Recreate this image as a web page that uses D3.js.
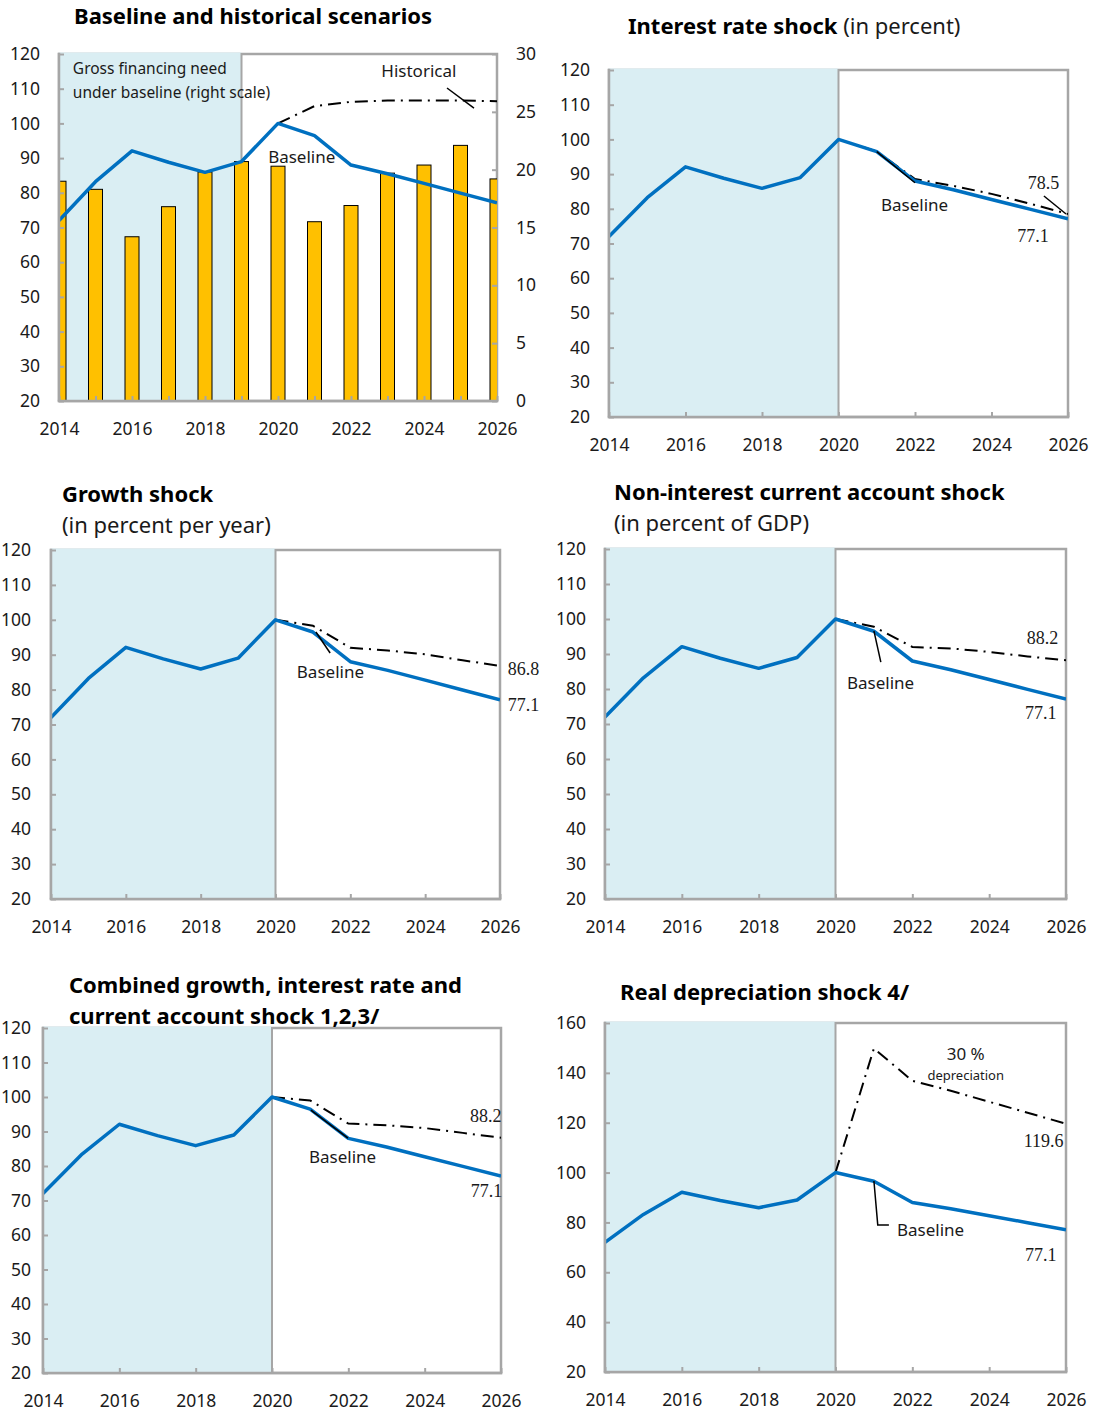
<html>
<head>
<title>Debt sustainability: bound tests</title>
<script src="https://d3js.org/d3.v7.min.js"></script>
<style>
body { margin: 0; background: #ffffff; font-family: 'Noto Sans', 'Open Sans', sans-serif; }
.axis text { font-family: 'Noto Sans', sans-serif; font-size: 17.5px; fill: #1a1a1a; }
.axis line { stroke: #a6a6a6; stroke-width: 2; }
.axis path { display: none; }
.title { font-size: 22px; font-weight: bold; fill: #000; }
.subtitle { font-size: 22px; fill: #1a1a1a; }
.note { font-size: 17px; fill: #1a1a1a; }
.num { font-family: 'Liberation Serif', 'Times New Roman', serif; font-size: 18px; fill: #1a1a1a; }
</style>
</head>
<body>
<svg id="chart" width="1098" height="1414"></svg>
<script>
// data
var years = [2014, 2015, 2016, 2017, 2018, 2019, 2020, 2021, 2022, 2023, 2024, 2025, 2026];
var projYears = [2020, 2021, 2022, 2023, 2024, 2025, 2026];
var labelYears = [2014, 2016, 2018, 2020, 2022, 2024, 2026];
var ticks120 = [20, 30, 40, 50, 60, 70, 80, 90, 100, 110, 120];
var ticks160 = [20, 40, 60, 80, 100, 120, 140, 160];
var ticksRight = [0, 5, 10, 15, 20, 25, 30];

var baseline = [72, 83.2, 92.1, 88.8, 85.9, 89, 100, 96.5, 88, 85.5, 82.7, 79.9, 77.1];
var grossFinancing = [19.0, 18.3, 14.2, 16.8, 19.8, 20.7, 20.3, 15.5, 16.9, 19.7, 20.4, 22.1, 19.2];
var historical = [100, 105, 106.2, 106.6, 106.6, 106.6, 106.4];
var interestShock = [100, 96.5, 88.6, 86.6, 84.3, 81.5, 78.5];
var growthShock = [100, 98.3, 92, 91.2, 90.1, 88.4, 86.8];
var caShock = [100, 97.8, 92, 91.6, 90.6, 89.3, 88.2];
var combinedShock = [100, 99, 92.3, 91.8, 91, 89.6, 88.2];
var depreciationShock = [100, 149.8, 136.8, 132.8, 128.4, 124, 119.6];

var blue = "#0070c0";
var shade = "#daeef3";
var gray = "#a6a6a6";
var dashDot = "13,6,2,6";

var svg = d3.select("#chart");

// panel layout; annotation positions are in data units [year, value]
var panels = [
    { left: 59, right: 497, top: 54, bottom: 401, ymax: 120, yTicks: ticks120, shadeEnd: 2019,
      shock: historical, bars: grossFinancing, allTicks: true, pad: 19,
      titles: [{ x: 74, y: 24, parts: [["Baseline and historical scenarios", "title"]] }],
      texts: [
          { at: [2014.38, 114.2], text: "Gross financing  need", cls: "note", size: 15.5 },
          { at: [2014.38, 107.3], text: "under baseline  (right  scale)", cls: "note", size: 15.5 },
          { at: [2023.86, 113.4], text: "Historical", cls: "note", anchor: "middle" },
          { at: [2019.73, 88.6], text: "Baseline", cls: "note" }
      ],
      leaders: [[[2024.63, 110.2], [2025.37, 104.4]]] },
    { left: 609, right: 1068, top: 70, bottom: 417, ymax: 120, yTicks: ticks120, shadeEnd: 2020,
      shock: interestShock, pad: 19,
      titles: [{ x: 628, y: 34, parts: [["Interest rate shock", "title"], [" (in percent)", "subtitle"]] }],
      texts: [
          { at: [2021.11, 79.4], text: "Baseline", cls: "note" },
          { at: [2024.95, 85.7], text: "78.5", cls: "num" },
          { at: [2024.67, 70.4], text: "77.1", cls: "num" }
      ],
      leaders: [[[2021.0, 96.5], [2022.0, 87.5]], [[2025.37, 83.7], [2025.95, 78.5]]] },
    { left: 51, right: 500, top: 550, bottom: 899, ymax: 120, yTicks: ticks120, shadeEnd: 2020,
      shock: growthShock, pad: 20,
      titles: [{ x: 62, y: 502, parts: [["Growth shock", "title"]] },
               { x: 62, y: 533, parts: [["(in percent per year)", "subtitle"]] }],
      texts: [
          { at: [2020.57, 83.3], text: "Baseline", cls: "note" },
          { at: [2026.21, 84.2], text: "86.8", cls: "num" },
          { at: [2026.21, 73.9], text: "77.1", cls: "num" }
      ],
      leaders: [[[2021.08, 96.5], [2021.46, 90.5]]] },
    { left: 605, right: 1066, top: 549, bottom: 899, ymax: 120, yTicks: ticks120, shadeEnd: 2020,
      shock: caShock, pad: 19,
      titles: [{ x: 614, y: 500, parts: [["Non-interest current account shock", "title"]] },
               { x: 614, y: 531, parts: [["(in percent of GDP)", "subtitle"]] }],
      texts: [
          { at: [2020.3, 80], text: "Baseline", cls: "note" },
          { at: [2024.98, 92.9], text: "88.2", cls: "num" },
          { at: [2024.93, 71.4], text: "77.1", cls: "num" }
      ],
      leaders: [[[2021.0, 96.6], [2021.18, 87.7]]] },
    { left: 43, right: 501, top: 1028, bottom: 1373, ymax: 120, yTicks: ticks120, shadeEnd: 2020,
      shock: combinedShock, pad: 12,
      titles: [{ x: 69, y: 993, parts: [["Combined growth, interest rate and", "title"]] },
               { x: 69, y: 1024, parts: [["current account shock 1,2,3/", "title"]] }],
      texts: [
          { at: [2020.97, 80.9], text: "Baseline", cls: "note" },
          { at: [2025.19, 92.8], text: "88.2", cls: "num" },
          { at: [2025.21, 71.0], text: "77.1", cls: "num" }
      ],
      leaders: [[[2021.02, 96.2], [2021.99, 88.1]]] },
    { left: 605, right: 1066, top: 1023, bottom: 1372, ymax: 160, yTicks: ticks160, shadeEnd: 2020,
      shock: depreciationShock, pad: 19,
      titles: [{ x: 620, y: 1000, parts: [["Real depreciation shock 4/", "title"]] }],
      texts: [
          { at: [2021.6, 74.6], text: "Baseline", cls: "note" },
          { at: [2023.39, 145.2], text: "30 %", cls: "note", anchor: "middle" },
          { at: [2023.39, 137.1], text: "depreciation", cls: "note", anchor: "middle", size: 13 },
          { at: [2024.9, 110.3], text: "119.6", cls: "num" },
          { at: [2024.93, 64.5], text: "77.1", cls: "num" }
      ],
      leaders: [[[2021.0, 96.6], [2021.1, 79.0], [2021.39, 79.0]]] }
];

panels.forEach(function (p, i) { drawPanel(p, i); });

function drawPanel(p, i) {
    var x = d3.scaleLinear().domain([2014, 2026]).range([p.left, p.right]);
    var y = d3.scaleLinear().domain([20, p.ymax]).range([p.bottom, p.top]);
    var g = svg.append("g");

    g.append("clipPath").attr("id", "clip" + i)
    .append("rect")
    .attr("x", p.left).attr("y", p.top)
    .attr("width", p.right - p.left).attr("height", p.bottom - p.top);

    // frame
    g.append("rect")
    .attr("x", p.left).attr("y", p.top)
    .attr("width", p.right - p.left).attr("height", p.bottom - p.top)
    .style("fill", "#fff")
    .style("stroke", gray).style("stroke-width", 2.5);

    // historical period shading
    g.append("rect")
    .attr("x", p.left).attr("y", p.top - 1.5)
    .attr("width", x(p.shadeEnd) - p.left).attr("height", p.bottom - p.top + 1.5)
    .style("fill", shade);

    g.append("line")
    .attr("x1", x(p.shadeEnd)).attr("x2", x(p.shadeEnd))
    .attr("y1", p.top - 1).attr("y2", p.bottom)
    .style("stroke", gray).style("stroke-width", 2);

    var plot = g.append("g").attr("clip-path", "url(#clip" + i + ")");

    // gross financing need bars (right scale)
    if (p.bars) {
        var yr = d3.scaleLinear().domain([0, 30]).range([p.bottom, p.top]);
        plot.selectAll("rect.bar")
        .data(p.bars)
        .enter().append("rect")
        .attr("class", "bar")
        .attr("x", function (d, j) { return x(years[j]) - 7; })
        .attr("width", 14)
        .attr("y", function (d) { return yr(d); })
        .attr("height", function (d) { return p.bottom - yr(d); })
        .style("fill", "#ffc000")
        .style("stroke", "#000").style("stroke-width", 1);

        g.append("g").attr("class", "axis")
        .attr("transform", "translate(" + p.right + ",0)")
        .call(d3.axisRight(yr).tickValues(ticksRight).tickSize(-5).tickPadding(19));
    }

    // axes
    g.append("line")
    .attr("x1", p.left).attr("x2", p.left).attr("y1", p.top - 1.2).attr("y2", p.bottom)
    .style("stroke", gray).style("stroke-width", 2.5);
    g.append("line")
    .attr("x1", p.left - 1.2).attr("x2", p.right + 1.2).attr("y1", p.bottom).attr("y2", p.bottom)
    .style("stroke", gray).style("stroke-width", 2.5);

    g.append("g").attr("class", "axis")
    .attr("transform", "translate(" + p.left + ",0)")
    .call(d3.axisLeft(y).tickValues(p.yTicks).tickSize(-5).tickPadding(p.pad));

    g.append("g").attr("class", "axis")
    .attr("transform", "translate(0," + p.bottom + ")")
    .call(d3.axisBottom(x)
        .tickValues(p.allTicks ? years : labelYears)
        .tickFormat(function (d) { return labelYears.indexOf(d) >= 0 ? d : ""; })
        .tickSize(-5).tickPadding(22));

    // leader lines
    var leaderLine = d3.line()
    .x(function (d) { return x(d[0]); })
    .y(function (d) { return y(d[1]); });

    p.leaders.forEach(function (pts) {
        g.append("path")
        .attr("d", leaderLine(pts))
        .style("fill", "none").style("stroke", "#000").style("stroke-width", 1.5);
    });

    // shock / scenario line
    var shockLine = d3.line()
    .x(function (d, j) { return x(projYears[j]); })
    .y(function (d) { return y(d); });

    plot.append("path")
    .datum(p.shock)
    .attr("d", shockLine)
    .style("fill", "none").style("stroke", "#000")
    .style("stroke-width", 2).style("stroke-dasharray", dashDot);

    // baseline
    var baseLine = d3.line()
    .x(function (d, j) { return x(years[j]); })
    .y(function (d) { return y(d); });

    plot.append("path")
    .datum(baseline)
    .attr("d", baseLine)
    .style("fill", "none").style("stroke", blue)
    .style("stroke-width", 3.5).style("stroke-linejoin", "round");

    // annotations
    p.texts.forEach(function (t) {
        g.append("text")
        .attr("class", t.cls)
        .attr("x", x(t.at[0]))
        .attr("y", y(t.at[1]))
        .attr("text-anchor", t.anchor || "start")
        .style("font-size", t.size ? t.size + "px" : null)
        .text(t.text);
    });

    // titles
    p.titles.forEach(function (t) {
        var txt = g.append("text").attr("x", t.x).attr("y", t.y);
        t.parts.forEach(function (part) {
            txt.append("tspan").attr("class", part[1]).text(part[0]);
        });
    });
}
</script>
</body>
</html>
